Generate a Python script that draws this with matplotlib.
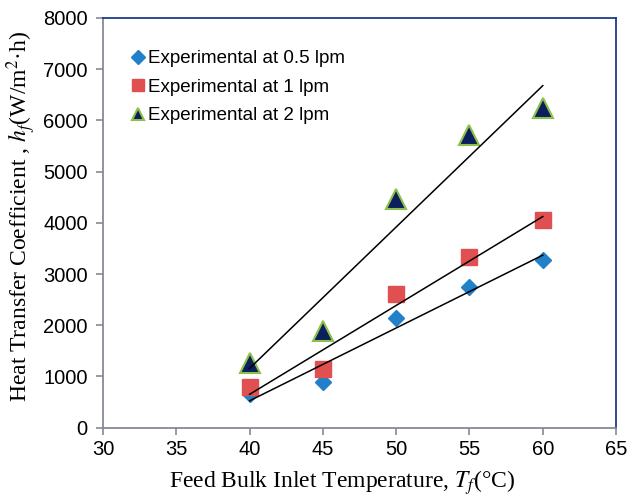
import numpy as np
import matplotlib.pyplot as plt

plt.rcParams['mathtext.fontset'] = 'stix'

temps = [40, 45, 50, 55, 60]
h_05 = [650, 900, 2150, 2750, 3280]
h_1 = [800, 1150, 2600, 3330, 4050]
h_2 = [1270, 1880, 4470, 5720, 6250]

fig = plt.figure(figsize=(6.28, 4.99), dpi=100)
ax = fig.add_axes([0.164, 0.143, 0.817, 0.821])

ax.plot(temps, h_05, linestyle='none', marker='D', markersize=8,
        color='#2080C8', markeredgecolor='#2080C8', label='Experimental at 0.5 lpm')
ax.plot(temps, h_1, linestyle='none', marker='s', markersize=11,
        color='#E05050', markeredgecolor='#E05050', label='Experimental at 1 lpm')
ax.plot(temps, h_2, linestyle='none', marker='^', markersize=14,
        color='#0B1F5C', markeredgecolor='#8DC04A', markeredgewidth=1.5,
        label='Experimental at 2 lpm')

# linear trend lines
x = np.array(temps)
for ys in (h_05, h_1, h_2):
    k, b = np.polyfit(x, ys, 1)
    ax.plot([x[0], x[-1]], [k * x[0] + b, k * x[-1] + b], color='black', lw=1.1, zorder=3)

ax.set_xlim(30, 65)
ax.set_ylim(0, 8000)
ax.set_xticks(range(30, 66, 5))
ax.set_yticks(range(0, 8001, 1000))

for s in ('left', 'bottom'):
    ax.spines[s].set_color('#868A96')
    ax.spines[s].set_linewidth(1.3)
for s in ('top', 'right'):
    ax.spines[s].set_color('#1F3A8A')
    ax.spines[s].set_linewidth(1.3)

ax.tick_params(direction='out', length=5, color='#868A96', width=1.2, labelsize=14.5)
ax.tick_params(axis='y', pad=6)
ax.tick_params(axis='x', pad=4)
for lab in ax.get_xticklabels() + ax.get_yticklabels():
    lab.set_fontfamily('Liberation Sans')

ax.set_xlabel(r'Feed Bulk Inlet Temperature, $T_f$(°C)', fontfamily='Liberation Serif', fontsize=17)
ax.set_ylabel(r'Heat Transfer Coefficient , $h_f$(W/m$^2$·h)', fontfamily='Liberation Serif', fontsize=17)
ax.xaxis.set_label_coords(0.466, -0.1)
ax.yaxis.set_label_coords(-0.126, 0.517)

leg = ax.legend(loc='upper left', bbox_to_anchor=(0.05, 0.921), frameon=False,
                prop={'family': 'Liberation Sans', 'size': 13.5},
                borderpad=0, borderaxespad=0,
                handletextpad=0.05, handlelength=1.0, labelspacing=0.6)
for h, ms in zip(leg.legend_handles, (7, 8.5, 9)):
    h.set_markersize(ms)

fig.savefig('out.png', dpi=100)
